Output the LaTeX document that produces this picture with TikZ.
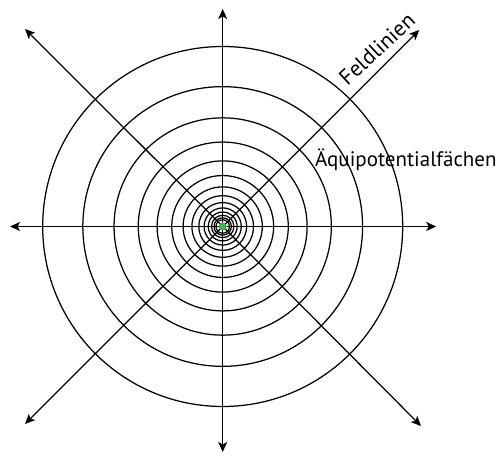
\documentclass[tikz,border=0pt]{standalone}
\usepackage{fontspec}
\setmainfont{PT Sans}
\usetikzlibrary{
    arrows.meta,
    positioning,
    calc
}
\definecolor{eqGreen}{HTML}{3DB54A}
\tikzset{
    eqCircle/.style={
        draw=black,
        line width=1.25pt
    },
    eqField/.style={-{Stealth[length=10pt,width=9pt,inset=2.5pt]},line width=1.25pt,draw=black},
    eqLabel/.style={
        font=\fontsize{21}{24}\selectfont,
        inner sep=0pt
    }
}

\begin{document}
\begin{tikzpicture}[x=1pt,y=1pt]
        \useasboundingbox (-222.7,-230.5) rectangle (278.3,226.5);

        % charge and field line ends
        \coordinate (o) at (0,0);
        \coordinate (east) at (213.5,0);
        \coordinate (west) at (-212.7,0);
        \coordinate (north) at (0,217.5);
        \coordinate (south) at (0,-225.5);
        \coordinate (northeast) at (196.5,196.5);
        \coordinate (northwest) at (-197.7,197.5);
        \coordinate (southwest) at (-197.7,-197.5);
        \coordinate (southeast) at (198.3,-199.5);

        % equipotential surfaces
        \foreach \k in {0,...,13}
            \draw[eqCircle] (o) circle[radius={180*0.777^\k}];

        % field lines
        \foreach \tip in {east,west,north,south,northeast,northwest,southwest,southeast}
            \draw[eqField] (o) -- (\tip);

        \fill[eqGreen] (o) circle[radius=4];

        % labels
        \node[eqLabel,anchor=base,rotate=43,font=\fontsize{22}{24}\selectfont] (feld) at (159.5,172) {Feldlinien};
        \node[eqLabel,anchor=base west] (aequi) at (92.3,59.8) {Äquipotentialfächen};
    \end{tikzpicture}
\end{document}
